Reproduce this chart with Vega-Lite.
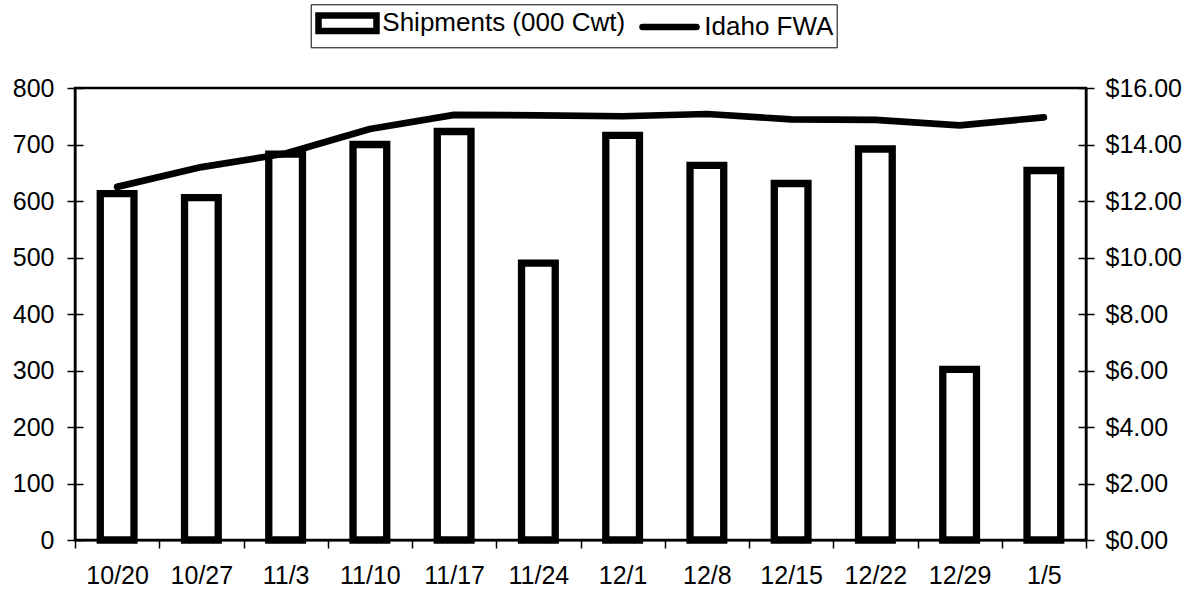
{
  "$schema": "https://vega.github.io/schema/vega-lite/v6.json",
  "autosize": {"type": "none"},
  "padding": {"left": 75, "top": 88, "right": 107, "bottom": 52},
  "width": 1011,
  "height": 452,
  "background": "white",
  "config": {
    "font": "Liberation Sans",
    "view": {"stroke": "black", "strokeWidth": 2.5},
    "axis": {"labelFont": "Liberation Sans", "labelFontSize": 25, "labelColor": "black", "domainColor": "black", "domainWidth": 2, "tickColor": "black", "tickWidth": 1.5, "tickSize": 8, "grid": false, "title": null},
    "legend": {
      "orient": "none", "legendX": 235.7, "legendY": -83.7, "direction": "horizontal", "columns": 2,
      "strokeColor": "black", "fillColor": "white", "padding": 3,
      "labelFont": "Liberation Sans", "labelFontSize": 26, "labelColor": "black", "labelOffset": 21.3, "labelLimit": 500,
      "columnPadding": 3, "symbolSize": 400, "symbolStrokeWidth": 6, "symbolOffset": 20.3
    }
  },
  "data": {"values": [
    {"week": "10/20", "ship": 613, "fwa": 12.5},
    {"week": "10/27", "ship": 606, "fwa": 13.2},
    {"week": "11/3", "ship": 683, "fwa": 13.68},
    {"week": "11/10", "ship": 700, "fwa": 14.55},
    {"week": "11/17", "ship": 723, "fwa": 15.05},
    {"week": "11/24", "ship": 490, "fwa": 15.03},
    {"week": "12/1", "ship": 716, "fwa": 15.0},
    {"week": "12/8", "ship": 663, "fwa": 15.08},
    {"week": "12/15", "ship": 631, "fwa": 14.89},
    {"week": "12/22", "ship": 692, "fwa": 14.87},
    {"week": "12/29", "ship": 302, "fwa": 14.68},
    {"week": "1/5", "ship": 654, "fwa": 14.96}
  ]},
  "encoding": {
    "x": {"field": "week", "type": "nominal", "sort": null,
      "scale": {"paddingInner": 0, "paddingOuter": 0},
      "axis": {"labelAngle": 0, "tickBand": "extent", "labelPadding": 15, "labelBaseline": "top"}}
  },
  "layer": [
    {
      "mark": {"type": "bar", "fill": "white", "strokeWidth": 7.3, "width": {"band": 0.4}},
      "encoding": {
        "y": {"field": "ship", "type": "quantitative",
          "scale": {"domain": [0, 800]},
          "axis": {"orient": "left", "values": [0,100,200,300,400,500,600,700,800], "labelPadding": 13}},
        "stroke": {"datum": "Shipments (000 Cwt)", "type": "nominal",
          "scale": {"domain": ["Shipments (000 Cwt)", "Idaho FWA"], "range": ["black", "black"]},
          "legend": {
            "title": null,
            "encode": {
              "labels": {"update": {"dy": {"value": 2}}},
              "symbols": {"update": {
              "shape": {"signal": "datum.value === 'Idaho FWA' ? 'M-2.7,0.2H2.7' : 'M-2.9,-0.575H2.9V0.975H-2.9Z'"},
              "fill": {"value": "white"},
              "stroke": {"value": "black"},
              "strokeWidth": {"value": 6.5},
              "strokeCap": {"value": "round"},
              "opacity": {"value": 1}
            }}}
          }}
      }
    },
    {
      "mark": {"type": "line", "strokeWidth": 6.7, "strokeCap": "round", "strokeJoin": "round"},
      "encoding": {
        "y": {"field": "fwa", "type": "quantitative",
          "scale": {"domain": [0, 16]},
          "axis": {"orient": "right", "values": [0,2,4,6,8,10,12,14,16], "format": "$.2f", "labelPadding": 11}},
        "stroke": {"datum": "Idaho FWA", "type": "nominal",
          "legend": {
            "title": null,
            "encode": {
              "labels": {"update": {"dy": {"value": 2}}},
              "symbols": {"update": {
              "shape": {"signal": "datum.value === 'Idaho FWA' ? 'M-2.7,0.2H2.7' : 'M-2.9,-0.575H2.9V0.975H-2.9Z'"},
              "fill": {"value": "white"},
              "stroke": {"value": "black"},
              "strokeWidth": {"value": 6.5},
              "strokeCap": {"value": "round"},
              "opacity": {"value": 1}
            }}}
          }}
      }
    },
    {
      "mark": {"type": "point", "opacity": 0},
      "encoding": {
        "y": {"field": "ship", "type": "quantitative",
          "scale": {"domain": [0, 800]},
          "axis": {"orient": "left", "values": [0,100,200,300,400,500,600,700,800], "labels": false, "domain": false, "tickSize": -8}}
      }
    },
    {
      "mark": {"type": "point", "opacity": 0},
      "encoding": {
        "y": {"field": "fwa", "type": "quantitative",
          "scale": {"domain": [0, 16]},
          "axis": {"orient": "right", "values": [0,2,4,6,8,10,12,14,16], "labels": false, "domain": false, "tickSize": -8}}
      }
    }
  ],
  "resolve": {"scale": {"y": "independent"}, "axis": {"y": "independent"}}
}
